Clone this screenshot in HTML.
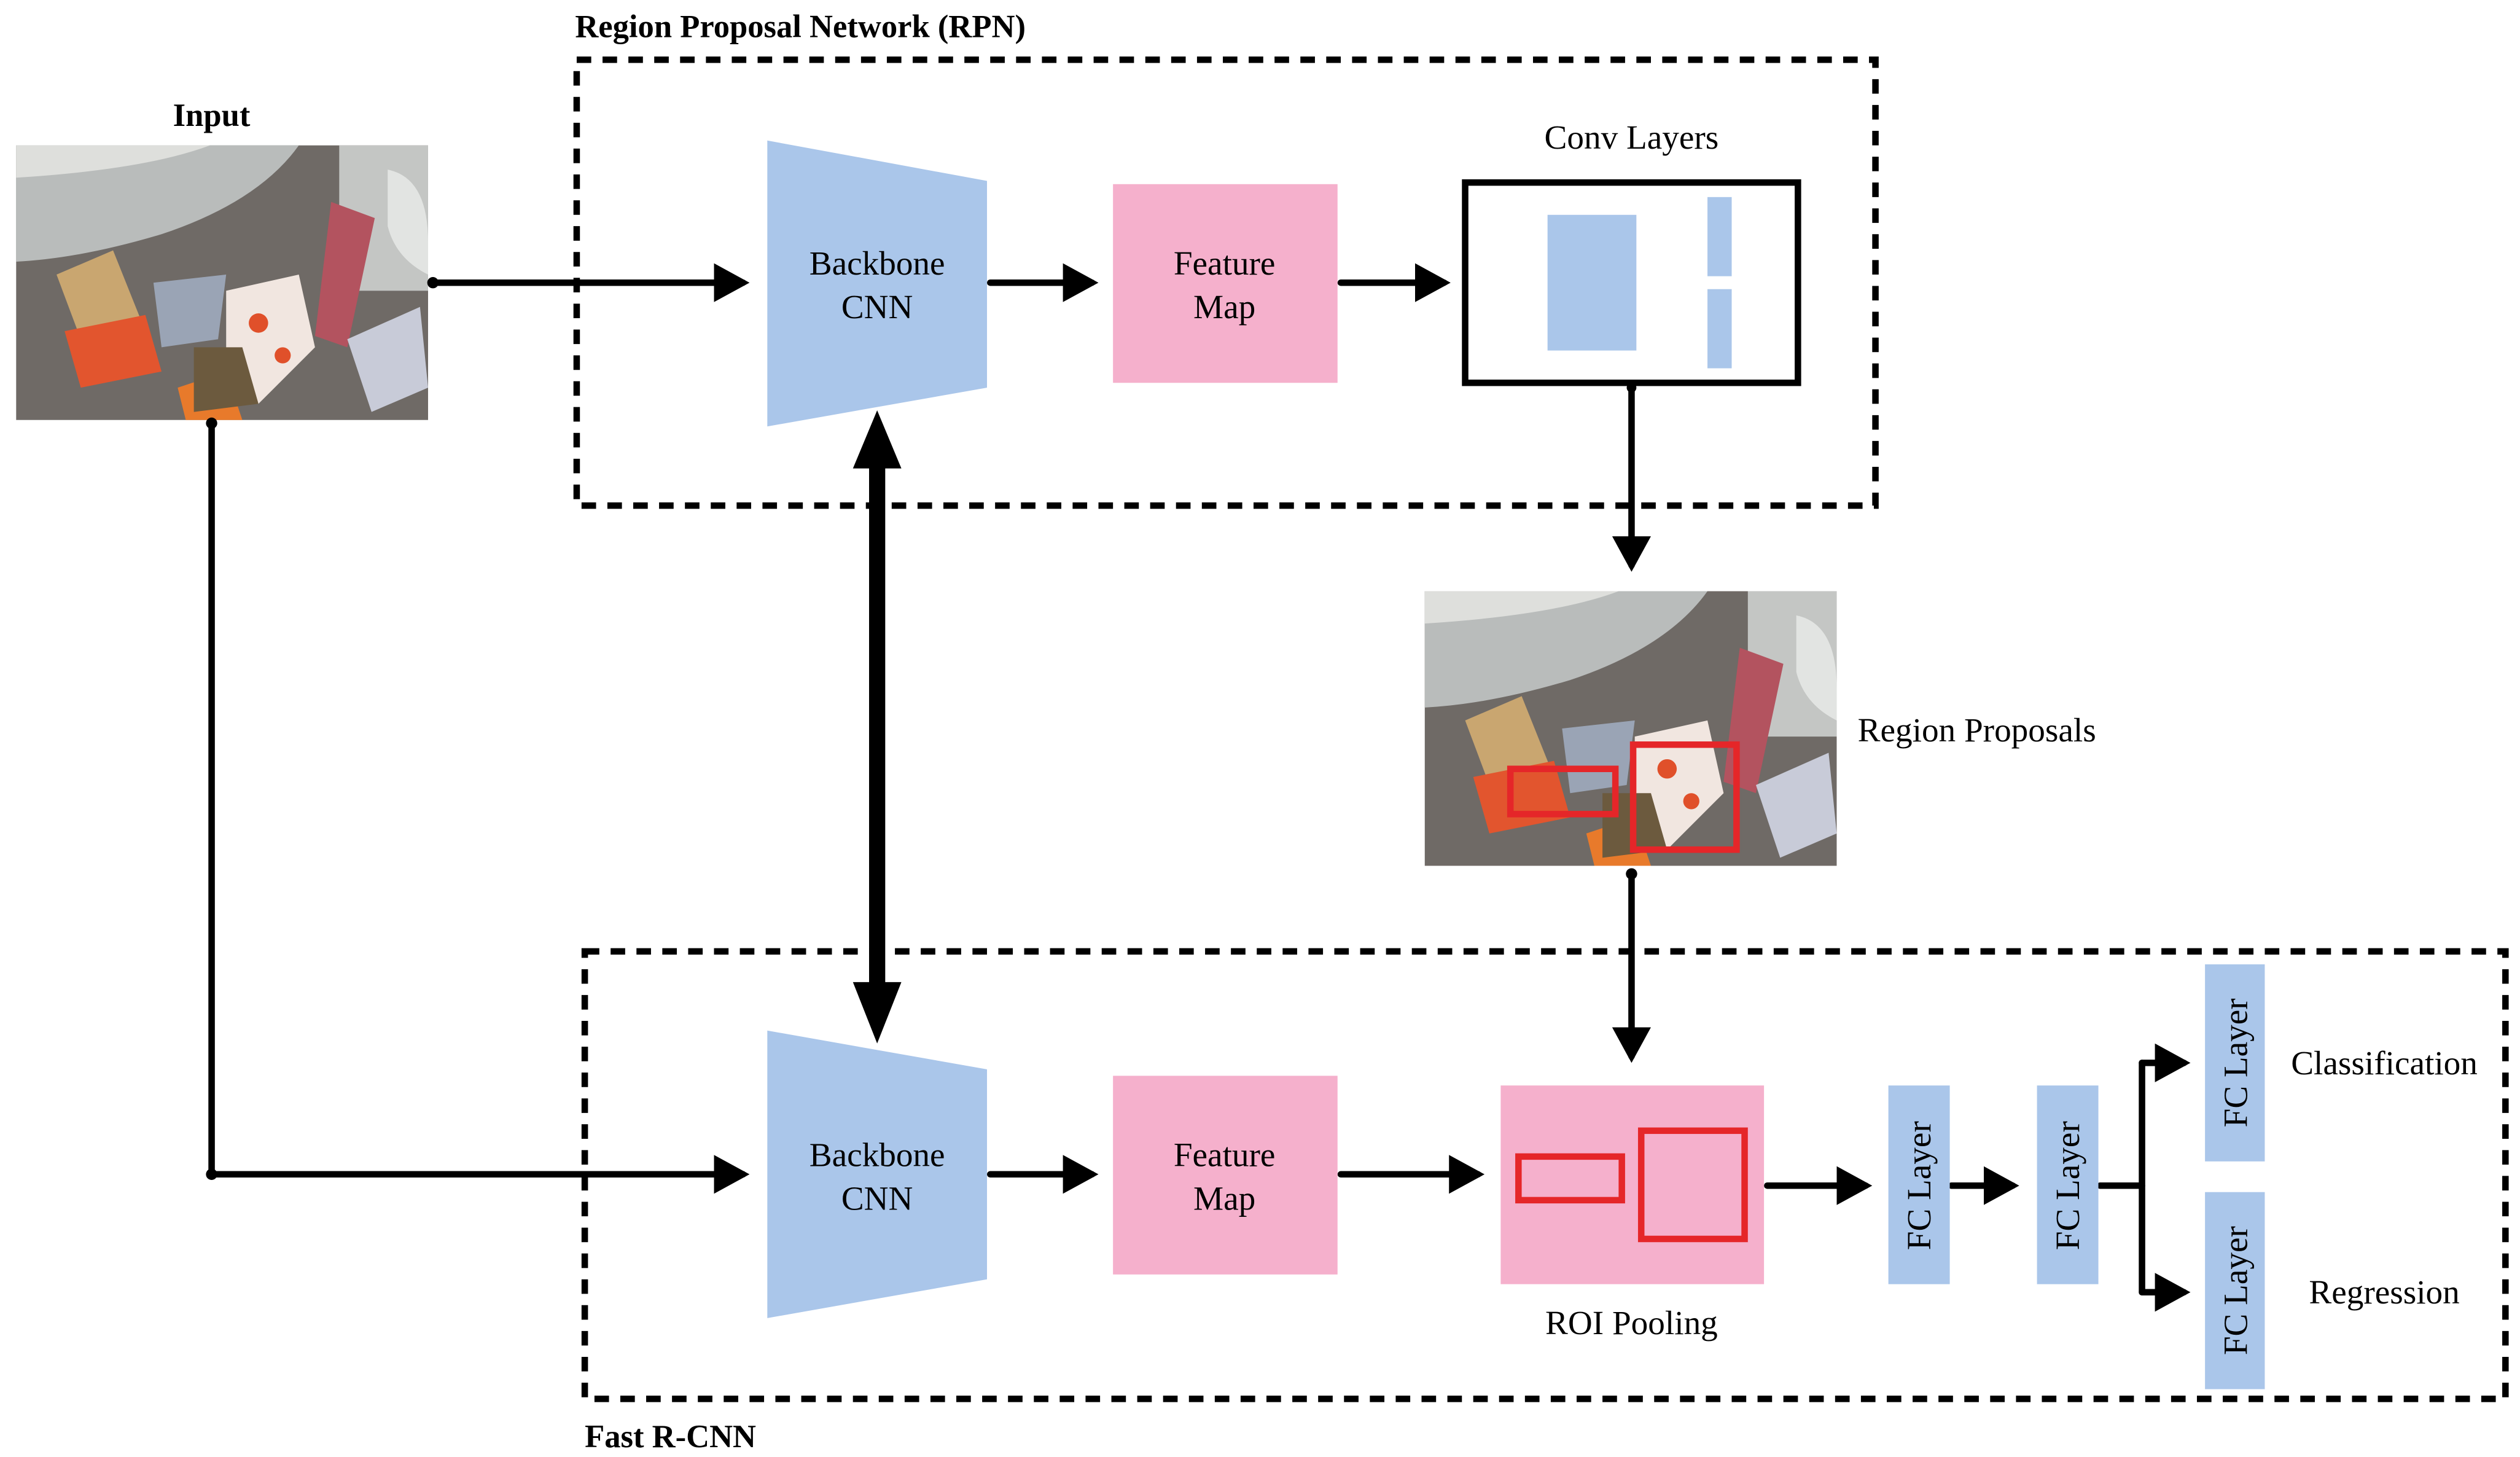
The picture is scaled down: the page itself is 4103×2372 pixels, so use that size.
<!DOCTYPE html>
<html><head><meta charset="utf-8">
<style>
html,body{margin:0;padding:0;background:#fff;}
svg{display:block;}
svg text{font-family:"Liberation Serif","DejaVu Serif",serif !important;fill:#000;}
</style></head>
<body>
<svg width="4103" height="2372" viewBox="0 0 1560 902" preserveAspectRatio="none" xmlns="http://www.w3.org/2000/svg" font-family="Liberation Serif, serif">
<defs>
<marker id="ah" markerWidth="6" markerHeight="6" refX="4.5" refY="3" orient="auto" markerUnits="strokeWidth">
<path d="M0,0 L5.5,3 L0,6 Z" fill="#000"/>
</marker>
<g id="photo">
<rect x="0" y="0" width="255" height="170" fill="#6f6a66"/>
<path d="M0,0 H175 Q150,35 90,55 Q40,70 0,72 Z" fill="#b9bcbb"/>
<path d="M0,0 H120 Q80,15 0,20 Z" fill="#dedfdc"/>
<rect x="200" y="0" width="55" height="90" fill="#c4c6c4"/>
<path d="M230,15 Q255,20 255,60 L255,80 Q235,70 230,50 Z" fill="#e2e4e2"/>
<polygon points="195,35 222,45 205,125 185,118" fill="#b3535f"/>
<polygon points="25,80 60,65 78,110 40,120" fill="#c9a670"/>
<polygon points="30,115 80,105 90,140 40,150" fill="#e2552e"/>
<polygon points="130,90 175,80 185,125 150,160 130,140" fill="#f1e6e0"/>
<circle cx="150" cy="110" r="6" fill="#e0502a"/>
<circle cx="165" cy="130" r="5" fill="#e0502a"/>
<polygon points="85,85 130,80 125,120 90,125" fill="#9aa4b5"/>
<polygon points="205,120 250,100 255,150 220,165" fill="#c8cbd8"/>
<polygon points="100,150 130,140 140,170 105,170" fill="#e87a2b"/>
<polygon points="110,125 140,125 150,160 110,165" fill="#6c5a3e"/>
</g>
</defs>

<text x="356" y="23" font-size="20" font-weight="bold">Region Proposal Network (RPN)</text>
<text x="131" y="78" font-size="20" font-weight="bold" text-anchor="middle">Input</text>
<text x="362" y="896" font-size="20" font-weight="bold">Fast R-CNN</text>

<rect x="357" y="37" width="804" height="276" fill="none" stroke="#000" stroke-width="4" stroke-dasharray="9,7"/>
<rect x="362" y="589" width="1189" height="277" fill="none" stroke="#000" stroke-width="4" stroke-dasharray="9,7"/>

<g transform="translate(10,90)"><use href="#photo"/></g>

<polygon points="475,87 611,112 611,240 475,264" fill="#aac6ea"/>
<text x="543" y="170" font-size="21" text-anchor="middle">Backbone</text>
<text x="543" y="197" font-size="21" text-anchor="middle">CNN</text>
<rect x="689" y="114" width="139" height="123" fill="#f5b0cc"/>
<text x="758" y="170" font-size="21" text-anchor="middle">Feature</text>
<text x="758" y="197" font-size="21" text-anchor="middle">Map</text>
<text x="1010" y="92" font-size="21" text-anchor="middle">Conv Layers</text>
<rect x="907" y="113" width="206" height="124" fill="#fff" stroke="#000" stroke-width="4"/>
<rect x="958" y="133" width="55" height="84" fill="#aac6ea"/>
<rect x="1057" y="122" width="15" height="49" fill="#aac6ea"/>
<rect x="1057" y="179" width="15" height="49" fill="#aac6ea"/>

<g stroke="#000" stroke-width="4" fill="none" stroke-linecap="round">
<line x1="268" y1="175" x2="460" y2="175" marker-end="url(#ah)"/>
<line x1="613" y1="175" x2="676" y2="175" marker-end="url(#ah)"/>
<line x1="830" y1="175" x2="894" y2="175" marker-end="url(#ah)"/>
<line x1="1010" y1="240" x2="1010" y2="350" marker-end="url(#ah)"/>
<line x1="1010" y1="540" x2="1010" y2="654" marker-end="url(#ah)"/>
<polyline points="131,262 131,727 460,727" marker-end="url(#ah)"/>
<line x1="613" y1="727" x2="676" y2="727" marker-end="url(#ah)"/>
<line x1="830" y1="727" x2="915" y2="727" marker-end="url(#ah)"/>
<line x1="1094" y1="734" x2="1155" y2="734" marker-end="url(#ah)"/>
<line x1="1208" y1="734" x2="1246" y2="734" marker-end="url(#ah)"/>
<line x1="1300" y1="734" x2="1326" y2="734"/>
<line x1="1326" y1="658" x2="1326" y2="800"/>
<line x1="1326" y1="658" x2="1352" y2="658" marker-end="url(#ah)"/>
<line x1="1326" y1="800" x2="1352" y2="800" marker-end="url(#ah)"/>
</g>
<g fill="#000">
<circle cx="268" cy="175" r="3.5"/><circle cx="131" cy="262" r="3.5"/><circle cx="131" cy="727" r="3.5"/>
<circle cx="1010" cy="541" r="3.5"/><circle cx="1010" cy="240" r="3"/>
</g>

<rect x="538" y="280" width="10" height="340" fill="#000"/>
<polygon points="543,254 528,290 558,290" fill="#000"/>
<polygon points="543,646 528,608 558,608" fill="#000"/>

<g transform="translate(882,366)"><use href="#photo"/></g>
<rect x="935" y="476" width="65" height="28" fill="none" stroke="#e52629" stroke-width="4"/>
<rect x="1011" y="461" width="64" height="65" fill="none" stroke="#e52629" stroke-width="4"/>
<text x="1150" y="459" font-size="21">Region Proposals</text>

<polygon points="475,638 611,662 611,792 475,816" fill="#aac6ea"/>
<text x="543" y="722" font-size="21" text-anchor="middle">Backbone</text>
<text x="543" y="749" font-size="21" text-anchor="middle">CNN</text>
<rect x="689" y="666" width="139" height="123" fill="#f5b0cc"/>
<text x="758" y="722" font-size="21" text-anchor="middle">Feature</text>
<text x="758" y="749" font-size="21" text-anchor="middle">Map</text>
<rect x="929" y="672" width="163" height="123" fill="#f5b0cc"/>
<rect x="940" y="716" width="64" height="27" fill="none" stroke="#e52629" stroke-width="4"/>
<rect x="1016" y="700" width="64" height="67" fill="none" stroke="#e52629" stroke-width="4"/>
<text x="1010" y="826" font-size="21" text-anchor="middle">ROI Pooling</text>

<rect x="1169" y="672" width="38" height="123" fill="#aac6ea"/>
<rect x="1261" y="672" width="38" height="123" fill="#aac6ea"/>
<rect x="1365" y="597" width="37" height="122" fill="#aac6ea"/>
<rect x="1365" y="738" width="37" height="122" fill="#aac6ea"/>
<text transform="translate(1195,734) rotate(-90)" font-size="21" text-anchor="middle">FC Layer</text>
<text transform="translate(1287,734) rotate(-90)" font-size="21" text-anchor="middle">FC Layer</text>
<text transform="translate(1391,658) rotate(-90)" font-size="21" text-anchor="middle">FC Layer</text>
<text transform="translate(1391,799) rotate(-90)" font-size="21" text-anchor="middle">FC Layer</text>
<text x="1476" y="665" font-size="21" text-anchor="middle">Classification</text>
<text x="1476" y="807" font-size="21" text-anchor="middle">Regression</text>
</svg>
</body></html>
